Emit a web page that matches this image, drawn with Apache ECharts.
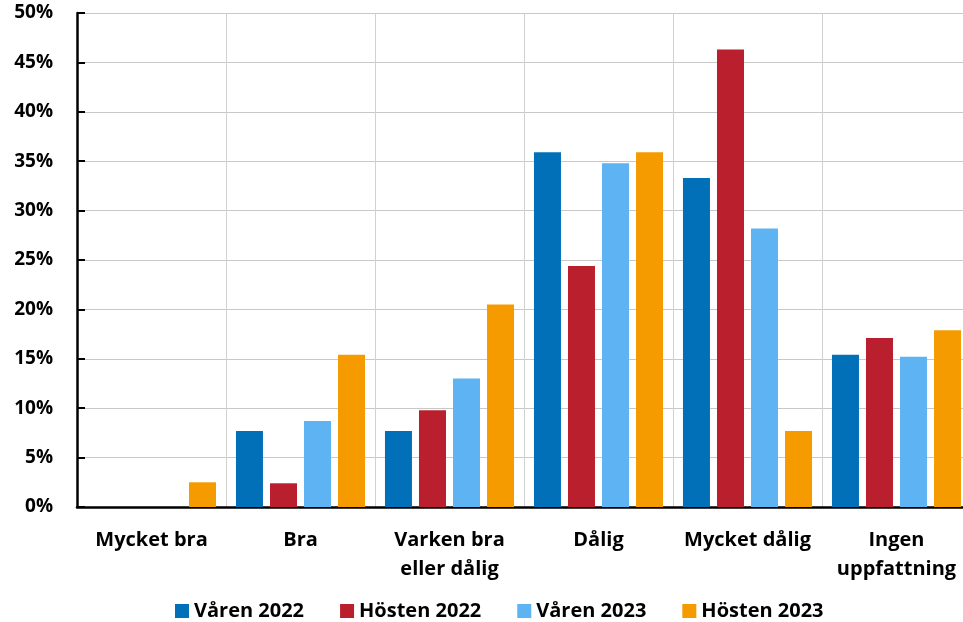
<!DOCTYPE html>
<html><head><meta charset="utf-8">
<script src="https://cdn.jsdelivr.net/npm/echarts@6/dist/echarts.min.js"></script>
<style>html,body{margin:0;padding:0;background:#fff;overflow:hidden}#c{width:975px;height:622px}</style>
</head><body><div id="c"></div>
<script>
const categories = ["Mycket bra", "Bra", "Varken bra\neller dålig", "Dålig", "Mycket dålig", "Ingen\nuppfattning"];
const seriesNames = ["Våren 2022", "Hösten 2022", "Våren 2023", "Hösten 2023"];
const varen2022 = [0, 7.7, 7.7, 35.9, 33.3, 15.4];
const hosten2022 = [0, 2.4, 9.8, 24.4, 46.3, 17.1];
const varen2023 = [0, 8.7, 13.0, 34.8, 28.2, 15.2];
const hosten2023 = [2.5, 15.4, 20.5, 35.9, 7.7, 17.9];
const colors = ["#0270B9", "#BA1F2D", "#5EB3F3", "#F59B00"];
const font = "'Open Sans', sans-serif";
const data = [varen2022, hosten2022, varen2023, hosten2023];
const chart = echarts.init(document.getElementById('c'));
chart.setOption({
  animation: false,
  textStyle: {fontFamily: font},
  grid: {left: 77, top: 13, width: 894, height: 494, containLabel: false},
  legend: {
    top: 596, left: 170, itemWidth: 14, itemHeight: 14, itemGap: 36,
    icon: 'rect',
    textStyle: {fontFamily: font, fontWeight: 'bold', fontSize: 20, color: '#000'},
    data: seriesNames
  },
  xAxis: {
    type: 'category', data: categories,
    axisLine: {lineStyle: {color: '#000', width: 2.5}},
    axisTick: {inside: true, length: 7, lineStyle: {color: '#000', width: 2}},
    splitLine: {show: true, lineStyle: {color: '#d0d0d0', width: 1}},
    axisLabel: {fontFamily: font, fontWeight: 'bold', fontSize: 20, color: '#000', margin: 19, lineHeight: 29, interval: 0}
  },
  yAxis: {
    type: 'value', min: 0, max: 50, interval: 5,
    axisLine: {show: true, lineStyle: {color: '#000', width: 2.5}},
    axisTick: {show: true, inside: true, length: 8, lineStyle: {color: '#000', width: 2}},
    splitLine: {lineStyle: {color: '#c8c8c8', width: 1}},
    axisLabel: {fontFamily: font, fontWeight: 'bold', fontSize: 19, color: '#000', margin: 24, formatter: '{value}%'}
  },
  series: seriesNames.map((n, i) => ({
    name: n, type: 'bar', data: data[i], barWidth: 27, barGap: '26%',
    itemStyle: {color: colors[i]}
  }))
});
</script></body></html>
